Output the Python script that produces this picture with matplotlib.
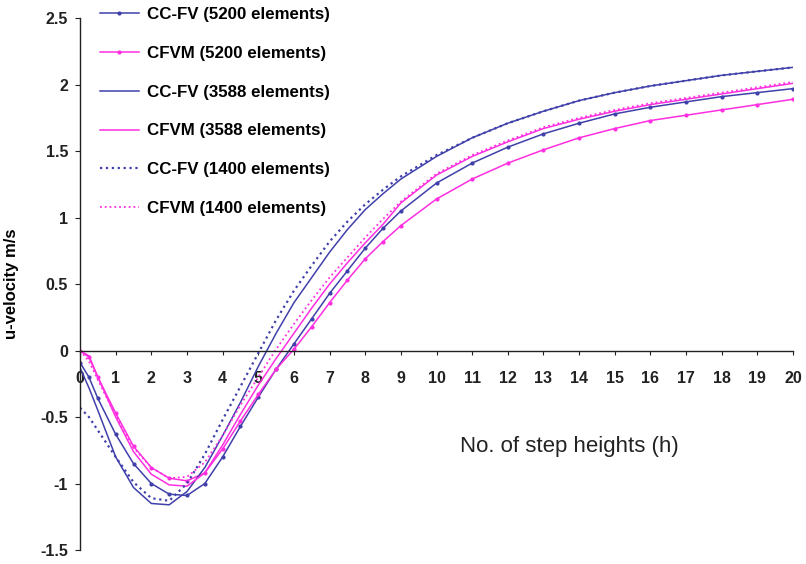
import matplotlib
matplotlib.use("Agg")
import matplotlib.pyplot as plt

plt.rcParams["font.family"] = ["Liberation Sans", "DejaVu Sans"]

# step heights (h)
x = [0, 0.25, 0.5, 1, 1.5, 2, 2.5, 3, 3.5, 4, 4.5, 5, 5.5, 6, 6.5, 7, 7.5,
     8, 8.5, 9, 10, 11, 12, 13, 14, 15, 16, 17, 18, 19, 20]

# u-velocity readings, m/s
ccfv_5200 = [-0.09, -0.20, -0.36, -0.63, -0.85, -1.00, -1.08, -1.09, -1.00,
             -0.80, -0.57, -0.35, -0.14, 0.05, 0.24, 0.43, 0.60, 0.77, 0.92,
             1.05, 1.26, 1.41, 1.53, 1.63, 1.71, 1.78, 1.83, 1.87, 1.91,
             1.94, 1.97]
cfvm_5200 = [0.00, -0.05, -0.20, -0.47, -0.72, -0.88, -0.96, -0.98, -0.92,
             -0.74, -0.53, -0.33, -0.14, 0.01, 0.18, 0.36, 0.53, 0.69, 0.82,
             0.94, 1.14, 1.29, 1.41, 1.51, 1.60, 1.67, 1.73, 1.77, 1.81,
             1.85, 1.89]
ccfv_3588 = [-0.13, -0.28, -0.45, -0.80, -1.03, -1.15, -1.16, -1.06, -0.88,
             -0.64, -0.39, -0.12, 0.13, 0.36, 0.55, 0.74, 0.91, 1.06, 1.18,
             1.29, 1.46, 1.60, 1.71, 1.80, 1.88, 1.94, 1.99, 2.03, 2.07,
             2.10, 2.13]
cfvm_3588 = [0.00, -0.04, -0.20, -0.50, -0.76, -0.93, -1.01, -1.02, -0.92,
             -0.71, -0.48, -0.26, -0.06, 0.13, 0.32, 0.50, 0.66, 0.81, 0.95,
             1.11, 1.32, 1.46, 1.57, 1.67, 1.74, 1.80, 1.85, 1.89, 1.93,
             1.97, 2.01]
ccfv_1400 = [-0.43, -0.50, -0.60, -0.80, -0.99, -1.11, -1.13, -1.00, -0.78,
             -0.52, -0.27, -0.02, 0.23, 0.45, 0.64, 0.82, 0.97, 1.10, 1.21,
             1.31, 1.47, 1.60, 1.71, 1.80, 1.88, 1.94, 1.99, 2.03, 2.07,
             2.10, 2.13]
cfvm_1400 = [0.00, -0.08, -0.22, -0.49, -0.73, -0.88, -0.96, -0.95, -0.84,
             -0.64, -0.41, -0.20, 0.01, 0.20, 0.38, 0.55, 0.70, 0.85, 0.99,
             1.12, 1.33, 1.47, 1.58, 1.68, 1.75, 1.81, 1.86, 1.90, 1.94,
             1.98, 2.02]

x_ticks = list(range(0, 21))
y_ticks = [-1.5, -1, -0.5, 0, 0.5, 1, 1.5, 2, 2.5]
y_tick_labels = ["-1.5", "-1", "-0.5", "0", "0.5", "1", "1.5", "2", "2.5"]

blue = "#4040aa"
magenta = "#ff2ee0"

fig = plt.figure(figsize=(8.06, 5.64), dpi=100)
ax = fig.add_axes([0.0993, 0.0248, 0.8846, 0.943])

ax.plot(x, ccfv_5200, color=blue, lw=1.1, marker="o", ms=2.0,
        label="CC-FV (5200 elements)")
ax.plot(x, cfvm_5200, color=magenta, lw=1.1, marker="o", ms=2.0,
        label="CFVM (5200 elements)")
ax.plot(x, ccfv_3588, color=blue, lw=1.1, label="CC-FV (3588 elements)")
ax.plot(x, cfvm_3588, color=magenta, lw=1.1, label="CFVM (3588 elements)")
ax.plot(x, ccfv_1400, color=blue, lw=1.6, ls=":",
        label="CC-FV (1400 elements)")
ax.plot(x, cfvm_1400, color=magenta, lw=1.3, ls=":",
        label="CFVM (1400 elements)")

ax.set_xlim(0, 20)
ax.set_ylim(-1.5, 2.5)

# axes cross at the origin, no box
ax.spines["top"].set_visible(False)
ax.spines["right"].set_visible(False)
ax.spines["bottom"].set_position(("data", 0))
ax.spines["left"].set_position(("data", 0))
for sp in ("bottom", "left"):
    ax.spines[sp].set_color("#222222")
    ax.spines[sp].set_linewidth(1.0)

ax.set_xticks(x_ticks)
ax.set_xticklabels([str(t) for t in x_ticks], fontweight="bold", fontsize=11.5)
ax.set_yticks(y_ticks)
ax.set_yticklabels(y_tick_labels, fontweight="bold", fontsize=11.5)
ax.tick_params(axis="x", direction="out", length=3, pad=12, colors="#222222")
ax.tick_params(axis="y", direction="out", length=3.6, pad=5, colors="#222222")

ax.set_ylabel("u-velocity m/s", fontweight="bold", fontsize=12)
ax.yaxis.set_label_coords(-0.0856, 0.50)
ax.set_xlabel("No. of step heights (h)", fontsize=16, color="#222222")
ax.xaxis.set_label_coords(0.687, 0.194)
ax.xaxis.label.set_va("center")

leg = ax.legend(loc="upper left", bbox_to_anchor=(0.124, 0.987),
                bbox_transform=fig.transFigure, frameon=False,
                borderpad=0, borderaxespad=0, handlelength=2.3,
                handletextpad=0.5, labelspacing=1.4, numpoints=1,
                prop={"weight": "bold", "size": 12.2})

fig.savefig("out.png", dpi=100)
